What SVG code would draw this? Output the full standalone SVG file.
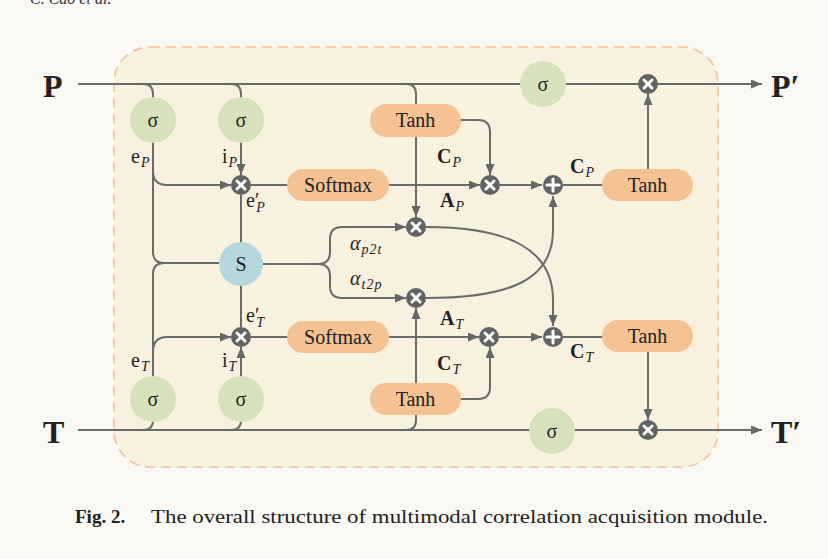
<svg xmlns="http://www.w3.org/2000/svg" width="828" height="559" viewBox="0 0 828 559">
<defs>
<marker id="ah" markerUnits="userSpaceOnUse" markerWidth="11" markerHeight="9" refX="11" refY="4.5" orient="auto">
<path d="M0,0 L11,4.5 L0,9 z" fill="#666"/>
</marker>
<style>
.ln{fill:none;stroke:#6b6b6b;stroke-width:2}
.ar{marker-end:url(#ah)}
.sig{fill:#d7e2bd}
.s{fill:#b6d8dd}
.box{fill:#f5c294}
.t{font-family:"Liberation Serif",serif;fill:#222}
.op{fill:#636363}
.x{stroke:#fff;stroke-width:3;stroke-linecap:round}
.lab{font-family:"Liberation Serif",serif;fill:#222;font-size:20px}
.sub{font-style:italic;font-size:14px}
</style>
</defs>
<rect width="828" height="559" fill="#f9f8f3"/>
<text x="30" y="4" font-family="Liberation Serif,serif" font-style="italic" font-size="16" fill="#333">C. Cao et al.</text>
<rect x="114" y="47" width="604" height="420" rx="36" ry="36" fill="#f8f1e0" stroke="#f5c196" stroke-width="1.6" stroke-dasharray="10,6"/>

<g id="connectors">
<path class="ln ar" d="M78 84 L762 84"/>
<path class="ln ar" d="M78 430 L762 430"/>
<path class="ln" d="M143 84 Q153 84 153 94 L153 110"/>
<path class="ln" d="M231 84 Q241 84 241 94 L241 110"/>
<path class="ln ar" d="M406 84 Q416 84 416 94 L416 217"/>
<path class="ln" d="M153 140 L153 252 Q153 263 164 263 L225 263"/>
<path class="ln" d="M153 380 L153 274 Q153 263 164 263"/>
<path class="ln ar" d="M153 171 Q153 185 167 185 L231 185"/>
<path class="ln ar" d="M241 140 L241 175"/>
<path class="ln" d="M241 195 L241 245"/>
<path class="ln" d="M251 185 L290 185"/>
<path class="ln ar" d="M389 185 L480 185"/>
<path class="ln ar" d="M458 120 L478 120 Q490 120 490 132 L490 175"/>
<path class="ln ar" d="M500 185 L542 185"/>
<path class="ln" d="M563 185 L605 185"/>
<path class="ln ar" d="M648 172 L648 94"/>
<path class="ln ar" d="M258 264 L318 264 Q330 264 330 252 L330 239 Q330 227 342 227 L406 227"/>
<path class="ln ar" d="M318 264 Q330 264 330 276 L330 286 Q330 298 342 298 L406 298"/>
<path class="ln ar" d="M426 227 C510 227 553 250 553 300 L553 326"/>
<path class="ln ar" d="M426 298 C510 298 553 280 553 230 L553 196"/>
<path class="ln ar" d="M153 352 Q153 337 167 337 L231 337"/>
<path class="ln ar" d="M241 380 L241 347"/>
<path class="ln" d="M241 327 L241 282"/>
<path class="ln" d="M251 337 L290 337"/>
<path class="ln ar" d="M389 337 L479 337"/>
<path class="ln ar" d="M406 430 Q416 430 416 420 L416 308"/>
<path class="ln ar" d="M458 399 L478 399 Q490 399 490 387 L490 347"/>
<path class="ln ar" d="M499 337 L542 337"/>
<path class="ln" d="M563 337 L605 337"/>
<path class="ln ar" d="M648 350 L648 420"/>
<path class="ln" d="M143 430 Q153 430 153 420 L153 410"/>
<path class="ln" d="M231 430 Q241 430 241 420 L241 410"/>
</g>

<g id="sigP1"><circle class="sig" cx="153" cy="120" r="23"/><text class="t" x="153" y="127" font-size="20" text-anchor="middle">σ</text></g>
<g id="sigP2"><circle class="sig" cx="241" cy="120" r="23"/><text class="t" x="241" y="127" font-size="20" text-anchor="middle">σ</text></g>
<g id="sigP3"><circle class="sig" cx="543" cy="84" r="23"/><text class="t" x="543" y="91" font-size="20" text-anchor="middle">σ</text></g>
<g id="sigT1"><circle class="sig" cx="153" cy="399" r="23"/><text class="t" x="153" y="406" font-size="20" text-anchor="middle">σ</text></g>
<g id="sigT2"><circle class="sig" cx="241" cy="399" r="23"/><text class="t" x="241" y="406" font-size="20" text-anchor="middle">σ</text></g>
<g id="sigT3"><circle class="sig" cx="552" cy="431" r="23"/><text class="t" x="552" y="438" font-size="20" text-anchor="middle">σ</text></g>
<g id="S"><circle class="s" cx="241" cy="264" r="22"/><text class="t" x="241" y="271" font-size="20" text-anchor="middle">S</text></g>

<g id="softmaxP"><rect class="box" x="287" y="169" width="102" height="32" rx="16"/><text class="t" x="338" y="192" font-size="20" text-anchor="middle">Softmax</text></g>
<g id="softmaxT"><rect class="box" x="287" y="321" width="102" height="32" rx="16"/><text class="t" x="338" y="344" font-size="20" text-anchor="middle">Softmax</text></g>
<g id="tanhP1"><rect class="box" x="370" y="104" width="91" height="33" rx="16.5"/><text class="t" x="415.5" y="127" font-size="20" text-anchor="middle">Tanh</text></g>
<g id="tanhT1"><rect class="box" x="370" y="383" width="91" height="32" rx="16"/><text class="t" x="415.5" y="406" font-size="20" text-anchor="middle">Tanh</text></g>
<g id="tanhP2"><rect class="box" x="602" y="169" width="91" height="32" rx="16"/><text class="t" x="647.5" y="192" font-size="20" text-anchor="middle">Tanh</text></g>
<g id="tanhT2"><rect class="box" x="602" y="320" width="91" height="32" rx="16"/><text class="t" x="647.5" y="343" font-size="20" text-anchor="middle">Tanh</text></g>

<g id="mulEP"><circle class="op" cx="241" cy="185" r="10"/><path class="x" d="M237 181 L245 189 M245 181 L237 189"/></g>
<g id="mulET"><circle class="op" cx="241" cy="337" r="10"/><path class="x" d="M237 333 L245 341 M245 333 L237 341"/></g>
<g id="mulA1"><circle class="op" cx="416" cy="227" r="10"/><path class="x" d="M412 223 L420 231 M420 223 L412 231"/></g>
<g id="mulA2"><circle class="op" cx="416" cy="298" r="10"/><path class="x" d="M412 294 L420 302 M420 294 L412 302"/></g>
<g id="mulCP"><circle class="op" cx="490" cy="185" r="10"/><path class="x" d="M486 181 L494 189 M494 181 L486 189"/></g>
<g id="mulCT"><circle class="op" cx="489" cy="337" r="10"/><path class="x" d="M485 333 L493 341 M493 333 L485 341"/></g>
<g id="addP"><circle class="op" cx="553" cy="185" r="10"/><path class="x" d="M553 179 L553 191 M547 185 L559 185"/></g>
<g id="addT"><circle class="op" cx="553" cy="337" r="10"/><path class="x" d="M553 331 L553 343 M547 337 L559 337"/></g>
<g id="mulOP"><circle class="op" cx="648" cy="84" r="10"/><path class="x" d="M644 80 L652 88 M652 80 L644 88"/></g>
<g id="mulOT"><circle class="op" cx="648" cy="430" r="10"/><path class="x" d="M644 426 L652 434 M652 426 L644 434"/></g>

<g id="labels">
<text class="t" x="43" y="97" font-size="32" font-weight="bold">P</text>
<text class="t" x="43" y="443" font-size="32" font-weight="bold">T</text>
<text class="t" x="771" y="97" font-size="32" font-weight="bold">P′</text>
<text class="t" x="771" y="443" font-size="32" font-weight="bold">T′</text>
<text class="lab" x="131" y="163">e<tspan class="sub" dx="1" dy="4">P</tspan></text>
<text class="lab" x="222" y="163">i<tspan class="sub" dx="1" dy="4">P</tspan></text>
<text class="lab" x="246" y="207">e′<tspan class="sub" dx="-3" dy="5">P</tspan></text>
<text class="lab" x="131" y="367">e<tspan class="sub" dx="1" dy="4">T</tspan></text>
<text class="lab" x="222" y="367">i<tspan class="sub" dx="1" dy="4">T</tspan></text>
<text class="lab" x="246" y="322">e′<tspan class="sub" dx="-3" dy="5">T</tspan></text>
<text class="lab" x="437" y="163" font-weight="bold">C<tspan class="sub" font-weight="normal" dx="1" dy="4">P</tspan></text>
<text class="lab" x="440" y="207" font-weight="bold">A<tspan class="sub" font-weight="normal" dx="1" dy="4">P</tspan></text>
<text class="lab" x="570" y="173" font-weight="bold">C<tspan class="sub" font-weight="normal" dx="1" dy="4">P</tspan></text>
<text class="lab" x="440" y="325" font-weight="bold">A<tspan class="sub" font-weight="normal" dx="1" dy="4">T</tspan></text>
<text class="lab" x="437" y="370" font-weight="bold">C<tspan class="sub" font-weight="normal" dx="1" dy="4">T</tspan></text>
<text class="lab" x="570" y="358" font-weight="bold">C<tspan class="sub" font-weight="normal" dx="1" dy="4">T</tspan></text>
<text class="lab" x="350" y="250" font-style="italic">α<tspan class="sub" dx="1" dy="4" letter-spacing="1">p2t</tspan></text>
<text class="lab" x="350" y="285" font-style="italic">α<tspan class="sub" dx="1" dy="4" letter-spacing="1">t2p</tspan></text>
</g>

<text x="75" y="523" font-family="Liberation Serif,serif" font-size="19" font-weight="bold" fill="#222">Fig. 2.</text>
<text x="151" y="523" font-family="Liberation Serif,serif" font-size="19" fill="#222" textLength="617" lengthAdjust="spacingAndGlyphs">The overall structure of multimodal correlation acquisition module.</text>
</svg>
